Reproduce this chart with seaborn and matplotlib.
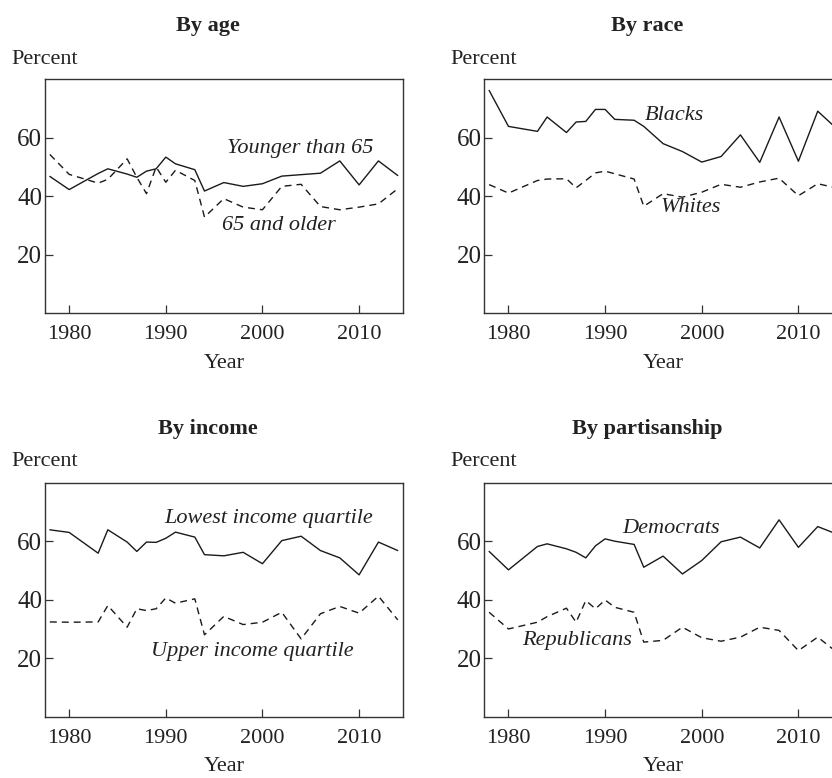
import matplotlib
matplotlib.use("Agg")
import matplotlib.pyplot as plt
import seaborn as sns
import pandas as pd

# ---------------- data ----------------
years = [1978, 1980, 1983, 1984, 1986, 1987, 1988, 1989, 1990, 1991, 1993,
         1994, 1996, 1998, 2000, 2002, 2004, 2006, 2008, 2010, 2012, 2014]

younger_than_65 = [46.8, 42.3, 47.8, 49.4, 47.6, 46.5, 48.6, 49.4, 53.4, 51.1, 49.1,
                   41.8, 44.7, 43.4, 44.3, 46.9, 47.4, 47.9, 52.1, 43.9, 52.1, 47.1]
age_65_older = [54.3, 47.5, 44.5, 45.8, 52.8, 46.5, 40.9, 50.0, 44.8, 48.9, 45.4,
                32.9, 39.2, 36.3, 35.4, 43.4, 44.1, 36.5, 35.4, 36.3, 37.4, 42.6]

blacks = [76.2, 63.9, 62.2, 67.1, 61.8, 65.4, 65.6, 69.7, 69.7, 66.3, 66.0,
          63.9, 58.0, 55.3, 51.7, 53.6, 61.0, 51.6, 67.1, 52.0, 69.1, 63.0]
whites = [44.0, 41.1, 45.4, 45.9, 46.0, 42.9, 45.4, 48.0, 48.6, 47.7, 45.9,
          36.6, 40.9, 39.7, 41.4, 44.1, 43.1, 44.9, 46.2, 40.2, 44.3, 42.8]

lowest_income = [63.9, 63.0, 55.9, 63.9, 59.7, 56.5, 59.7, 59.6, 61.0, 63.1, 61.4,
                 55.4, 55.0, 56.2, 52.3, 60.2, 61.7, 56.8, 54.3, 48.5, 59.7, 56.8]
upper_income = [32.4, 32.3, 32.4, 38.0, 30.6, 36.9, 36.3, 36.9, 40.6, 38.8, 40.3,
                28.0, 34.3, 31.5, 32.3, 35.7, 26.6, 35.2, 37.7, 35.4, 41.2, 33.1]

democrats = [56.5, 50.2, 58.2, 59.1, 57.4, 56.2, 54.3, 58.4, 60.8, 60.0, 58.9,
             51.1, 54.9, 48.8, 53.4, 59.8, 61.4, 57.7, 67.3, 57.9, 65.0, 62.4]
republicans = [35.7, 30.0, 32.3, 34.2, 37.1, 32.3, 39.7, 36.9, 39.9, 37.4, 35.7,
               25.5, 26.1, 30.6, 27.0, 25.8, 27.2, 30.6, 29.5, 22.6, 27.2, 22.0]

panel_titles = ["By age", "By race", "By income", "By partisanship"]
series_names = [("Younger than 65", "65 and older"),
                ("Blacks", "Whites"),
                ("Lowest income quartile", "Upper income quartile"),
                ("Democrats", "Republicans")]
series_values = [(younger_than_65, age_65_older),
                 (blacks, whites),
                 (lowest_income, upper_income),
                 (democrats, republicans)]
x_ticks = [1980, 1990, 2000, 2010]
y_ticks = [20, 40, 60]

# ---------------- style ----------------
sns.set_style("ticks")
plt.rcParams["font.family"] = ["Liberation Serif", "DejaVu Serif"]
plt.rcParams["lines.scale_dashes"] = False
TXT = "#222222"
LINE = "#1a1a1a"
FS = 16
FS_Y = 18

W, H = 832, 778
fig = plt.figure(figsize=(W / 100, H / 100), dpi=100)

# pixel geometry
ax_w = 357.6
ax_h = 234.0
lefts = [45.0, 484.3]
tops = [79.3, 482.7]
title_cx = [208.0, 647.0]
percent_x = [11.7, 450.7]

# label positions (data coords)
label_pos = [((2003.9, 56.3), (2001.7, 30.0)),
             ((1997.2, 67.6), (1998.9, 36.3)),
             ((2000.6, 67.7), (1998.9, 22.3)),
             ((1996.8, 64.2), (1987.1, 26.2))]

for i in range(4):
    r, c = divmod(i, 2)
    L = lefts[c]
    T = tops[r]
    ax = fig.add_axes([L / W, 1 - (T + ax_h) / H, ax_w / W, ax_h / H])
    s1, s2 = series_values[i]
    n1, n2 = series_names[i]
    df = pd.DataFrame({"year": years + years,
                       "value": list(s1) + list(s2),
                       "series": [n1] * len(years) + [n2] * len(years)})
    sns.lineplot(data=df[df["series"] == n1], x="year", y="value", ax=ax,
                 color=LINE, lw=1.0, estimator=None, legend=False)
    sns.lineplot(data=df[df["series"] == n2], x="year", y="value", ax=ax,
                 color=LINE, lw=1.0, estimator=None, legend=False,
                 dashes=False, linestyle=(0, (5, 3.6)))
    ax.set_xlim(1977.5, 2014.5)
    ax.set_ylim(0, 80)
    ax.set_xticks(x_ticks)
    ax.set_yticks(y_ticks)
    ax.set_xticklabels([str(t) for t in x_ticks])
    ax.set_yticklabels([str(t) for t in y_ticks])
    ax.tick_params(axis="both", direction="in", length=5.5, width=0.9,
                   colors="#333333", labelcolor=TXT)
    ax.tick_params(axis="x", pad=8.5, labelsize=FS)
    ax.tick_params(axis="y", pad=2.0, labelsize=FS_Y)
    for sp in ax.spines.values():
        sp.set_visible(True)
        sp.set_color("#333333")
        sp.set_linewidth(1.0)
    ax.set_xlabel("Year", fontsize=FS, color=TXT, labelpad=7.0)
    ax.set_ylabel("")
    (x1, y1), (x2, y2) = label_pos[i]
    ax.text(x1, y1, n1, ha="center", va="center", style="italic",
            fontsize=FS, color=TXT)
    ax.text(x2, y2, n2, ha="center", va="center", style="italic",
            fontsize=FS, color=TXT)
    # title and "Percent"
    title_y = 26.0 if r == 0 else 428.7
    fig.text(title_cx[c] / W, 1 - title_y / H, panel_titles[i], ha="center",
             va="center", fontsize=FS, fontweight="bold", color=TXT)
    pct_y = 59.0 if r == 0 else 461.5
    fig.text(percent_x[c] / W, 1 - pct_y / H, "Percent", ha="left",
             va="center", fontsize=FS, color=TXT)

fig.savefig("out.png", dpi=100, facecolor="white")
